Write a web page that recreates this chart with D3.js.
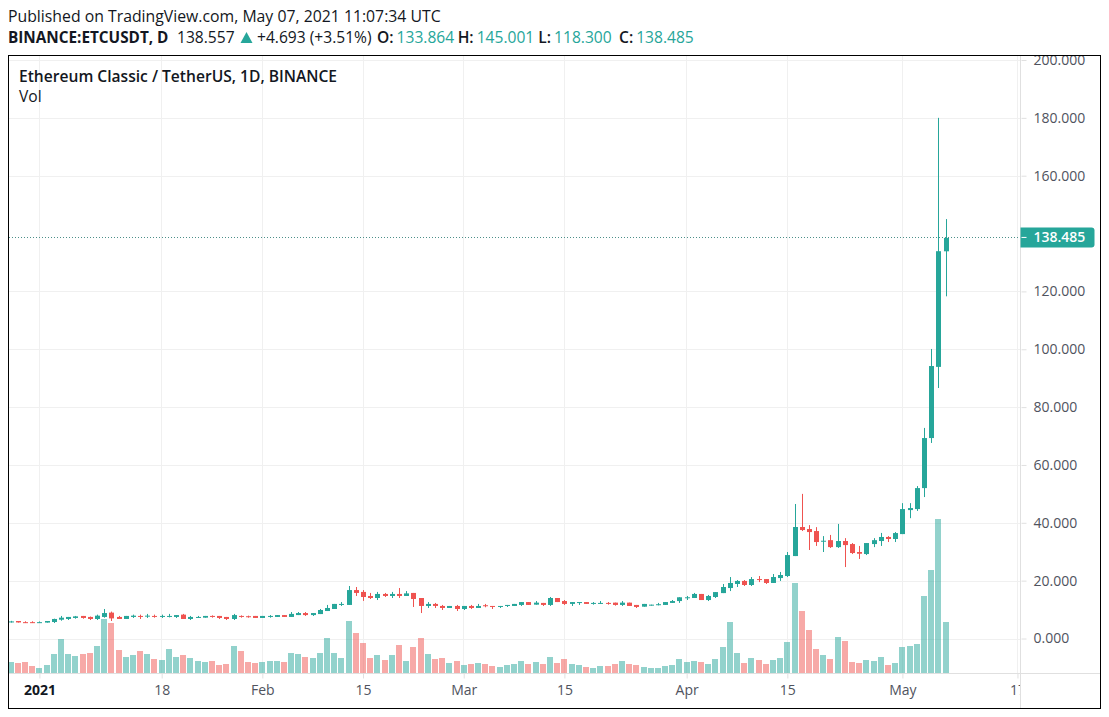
<!DOCTYPE html>
<html>
<head>
<meta charset="utf-8">
<script src="https://cdn.jsdelivr.net/npm/d3@7"></script>
<style>
  html, body { margin: 0; padding: 0; background: #fff; }
  svg { display: block; }
  text { font-family: "Open Sans", sans-serif; }
</style>
</head>
<body>
<div id="chart"></div>
<script>
const firstDay = new Date(Date.UTC(2020, 11, 28));

const opens = [
  5.8, 6.05, 5.65, 5.65, 5.55, 5.5, 5.7, 6.5, 6.75, 7.1,
  7.8, 7.45, 6.75, 7.45, 8.95, 7.45, 6.75, 7.45, 7.8, 7.8,
  7.8, 7.55, 7.7, 7.45, 8.25, 6.75, 7.35, 7.2, 7.8, 7.8,
  7.45, 6.75, 7.8, 7.7, 7.8, 7.1, 7.7, 7.45, 8.1, 7.45,
  8.1, 8.8, 8.1, 8.45, 9.5, 10.2, 11.85, 11.6, 16.75, 16.1,
  14.7, 14.0, 15.4, 14.7, 15.4, 14.7, 15.75, 14.0, 11.25, 11.95,
  11.25, 10.55, 11.25, 10.2, 11.25, 10.55, 11.5, 11.25, 11.15, 11.25,
  11.25, 11.6, 12.6, 11.7, 12.3, 11.6, 14.0, 12.95, 11.95, 12.5,
  12.6, 12.2, 12.2, 12.3, 12.4, 11.6, 12.4, 11.6, 11.0, 11.6,
  11.75, 11.6, 12.3, 12.95, 14.15, 14.0, 15.4, 13.3, 14.35, 15.7,
  17.45, 18.85, 19.9, 18.5, 20.55, 20.55, 19.2, 20.9, 21.6, 28.5,
  38.55, 37.85, 37.15, 33.6, 34, 31.6, 33.7, 32.65, 29.9, 29.2,
  32.65, 33.7, 35.1, 34.4, 36.1, 44.4, 44.75, 52, 69.3, 93.9,
  133.864
];
const highs = [
  6.1, 6.05, 5.95, 5.95, 5.9, 6.05, 6.85, 7.8, 7.45, 7.8,
  7.8, 7.6, 8.25, 10.2, 9.3, 7.8, 7.8, 8.25, 8.25, 8.5,
  8.25, 8.25, 8.5, 8.1, 8.5, 7.8, 7.8, 7.8, 8.0, 7.8,
  7.45, 8.5, 8.0, 7.9, 7.8, 7.8, 8.1, 8.1, 8.1, 9.15,
  9.15, 9.15, 8.8, 10.2, 11.6, 11.95, 12.6, 18.15, 17.8, 16.75,
  15.75, 16.1, 15.75, 16.1, 17.45, 16.4, 15.75, 14.0, 12.6, 12.3,
  11.6, 11.25, 11.6, 11.25, 11.6, 11.95, 11.95, 11.25, 11.25, 11.6,
  11.95, 12.6, 12.6, 12.95, 12.3, 14.35, 14.0, 13.3, 12.6, 12.6,
  12.6, 12.6, 12.95, 12.6, 12.4, 12.95, 12.4, 11.6, 11.95, 11.7,
  12.3, 12.6, 13.3, 14.25, 14.7, 15.75, 15.4, 15.05, 16.05, 18.85,
  21.25, 20.2, 20.2, 21.25, 21.6, 20.55, 22.3, 23, 29.9, 46.5,
  50, 39.2, 38.5, 35.4, 35.8, 39.6, 34.7, 33, 32, 33,
  34.7, 36.5, 35.4, 36.8, 46.8, 46.8, 52.7, 72.8, 100.1, 180,
  145.001
];
const lows = [
  5.5, 5.5, 5.35, 5.35, 5.4, 5.5, 5.35, 6.15, 6.4, 6.85,
  6.85, 6.4, 6.4, 7.2, 6.05, 6.75, 6.75, 7.1, 6.75, 7.1,
  7.2, 7.1, 7.3, 7.1, 6.75, 6.4, 7.1, 7.2, 7.2, 6.75,
  6.4, 6.4, 7.2, 7.2, 7.1, 7.1, 7.2, 7.45, 7.45, 7.45,
  8.1, 7.8, 7.8, 8.45, 9.5, 10.2, 11.25, 11.6, 14.7, 13.0,
  13.65, 13.3, 14.35, 14.0, 14.0, 14.7, 10.9, 8.8, 10.55, 10.55,
  9.85, 10.55, 9.5, 9.85, 10.2, 10.55, 10.8, 10.2, 10.55, 10.9,
  11.25, 11.25, 11.6, 11.7, 11.25, 11.25, 12.6, 11.6, 11.25, 11.6,
  11.95, 11.7, 11.95, 11.7, 11.35, 11.25, 11.25, 10.55, 11.0, 11.35,
  11.45, 11.6, 12.3, 12.3, 13.3, 14.0, 13.3, 12.95, 14.0, 15.7,
  16.4, 17.8, 18.15, 18.15, 19.5, 18.85, 19.2, 19.9, 21.25, 28.5,
  37.15, 30.6, 32, 29.9, 31.3, 31.3, 24.7, 29.2, 27.5, 28.85,
  31.6, 32, 33.35, 33.35, 36.1, 41.6, 44.1, 48.9, 67.6, 86.6,
  118.3
];
const closes = [
  5.9, 5.55, 5.55, 5.55, 5.65, 6.05, 6.75, 7.2, 7.45, 7.65,
  7.1, 6.75, 7.9, 8.8, 6.95, 6.75, 7.8, 7.9, 7.7, 7.9,
  7.7, 7.8, 7.8, 8.1, 6.75, 7.45, 7.45, 7.8, 7.7, 7.1,
  6.75, 8.1, 7.7, 7.6, 7.1, 7.8, 7.8, 8.1, 7.45, 8.5,
  8.8, 8.1, 8.8, 9.85, 10.55, 11.95, 11.95, 16.75, 15.75, 14.35,
  14.0, 15.4, 14.7, 15.4, 14.7, 15.6, 13.65, 11.25, 11.95, 11.25,
  10.55, 11.25, 10.2, 11.25, 10.55, 11.25, 11.4, 11.15, 11.25, 11.6,
  11.95, 12.6, 11.6, 12.4, 11.6, 14.0, 12.6, 11.95, 12.6, 12.6,
  11.95, 12.3, 12.3, 12.2, 11.6, 12.4, 11.25, 10.9, 11.95, 11.7,
  11.85, 12.6, 12.95, 14.25, 14.25, 15.4, 13.3, 14.7, 16.05, 17.8,
  19.2, 19.9, 18.5, 20.55, 20.45, 19.2, 21.25, 21.95, 28.85, 38.55,
  37.5, 36.8, 33.35, 33.8, 31.6, 33.7, 32.3, 29.55, 29.3, 33,
  34, 35.1, 34.4, 36.45, 44.75, 45.1, 52, 69.3, 94.2, 133.9,
  138.485
];
// relative volume (no volume axis on the chart)
const volumes = [
  11, 10, 11, 7, 5, 8, 19, 34, 19, 17,
  19, 20, 27, 54, 50, 23, 16, 18, 22, 19,
  14, 13, 24, 16, 18, 15, 12, 11, 12, 8,
  9, 27, 22, 11, 10, 11, 12, 12, 11, 20,
  19, 16, 15, 20, 35, 20, 15, 52, 40, 30,
  15, 18, 13, 18, 28, 12, 26, 35, 19, 14,
  15, 10, 12, 8, 9, 10, 9, 7, 6, 8,
  9, 12, 9, 11, 9, 16, 10, 14, 9, 8,
  6, 5, 7, 7, 9, 12, 9, 8, 6, 5,
  5, 7, 8, 14, 11, 12, 11, 9, 14, 26,
  51, 20, 10, 15, 13, 9, 13, 15, 31, 90,
  62, 43, 24, 18, 14, 36, 32, 11, 10, 13,
  12, 16, 8, 10, 26, 27, 29, 77, 103, 154,
  51
];

const priceTicks = [0, 20, 40, 60, 80, 100, 120, 160, 180, 200];
const timeTicks = [
  new Date(Date.UTC(2021, 0, 1)), new Date(Date.UTC(2021, 0, 18)),
  new Date(Date.UTC(2021, 1, 1)), new Date(Date.UTC(2021, 1, 15)),
  new Date(Date.UTC(2021, 2, 1)), new Date(Date.UTC(2021, 2, 15)),
  new Date(Date.UTC(2021, 3, 1)), new Date(Date.UTC(2021, 3, 15)),
  new Date(Date.UTC(2021, 4, 1)), new Date(Date.UTC(2021, 4, 17))
];
const timeLabels = ["2021", "18", "Feb", "15", "Mar", "15", "Apr", "15", "May", "17"];
const lastPrice = 138.485;
const quoteLabels = ["O:", "H:", "L:", "C:"];
const quoteValues = ["133.864", "145.001", "118.300", "138.485"];

const w = 1109, h = 717;
const paneLeft = 8.5, paneRight = 1100.5, paneTop = 55.5, paneBottom = 708.5;
const axisX = 1020.5, axisY = 673.5;
const green = "#26a69a", red = "#ef5350", ink = "#131722", axisInk = "#50535e";
const grid = "#f0f0f0", axisLine = "#e0e0e0";

const xScale = d3.scaleUtc()
  .domain([timeTicks[0], timeTicks[8]])
  .range([39.4, 902.4]);
const yScale = d3.scaleLinear()
  .domain([0, 200])
  .range([638.5, 60]);
const volScale = d3.scaleLinear()
  .domain([0, 154])
  .range([axisY, 519]);

const bars = opens.map((o, i) => ({
  date: d3.utcDay.offset(firstDay, i),
  o: o, h: highs[i], l: lows[i], c: closes[i], v: volumes[i]
}));

const svg = d3.select("#chart").append("svg")
  .attr("width", w)
  .attr("height", h);

svg.append("clipPath").attr("id", "pane")
  .append("rect")
  .attr("x", paneLeft).attr("y", paneTop)
  .attr("width", axisX - paneLeft).attr("height", paneBottom - paneTop);

// grid
svg.append("g").selectAll("line")
  .data(priceTicks)
  .enter().append("line")
  .attr("x1", paneLeft).attr("x2", axisX)
  .attr("y1", d => Math.round(yScale(d)) + 0.5)
  .attr("y2", d => Math.round(yScale(d)) + 0.5)
  .attr("stroke", grid);
svg.append("g").selectAll("line")
  .data(timeTicks)
  .enter().append("line")
  .attr("x1", d => Math.floor(xScale(d)) + 0.5)
  .attr("x2", d => Math.floor(xScale(d)) + 0.5)
  .attr("y1", paneTop).attr("y2", axisY)
  .attr("stroke", grid);

const pane = svg.append("g").attr("clip-path", "url(#pane)");

// volume sits behind the candles
pane.selectAll("rect.vol")
  .data(bars)
  .enter().append("rect")
  .attr("class", "vol")
  .attr("x", d => Math.round(xScale(d.date)) - 3)
  .attr("width", 6)
  .attr("y", d => Math.round(volScale(d.v)))
  .attr("height", d => axisY - Math.round(volScale(d.v)))
  .attr("fill", d => d.c >= d.o ? green : red)
  .attr("opacity", 0.5);

pane.selectAll("line.wick")
  .data(bars)
  .enter().append("line")
  .attr("class", "wick")
  .attr("x1", d => Math.round(xScale(d.date)) + 0.5)
  .attr("x2", d => Math.round(xScale(d.date)) + 0.5)
  .attr("y1", d => yScale(d.h))
  .attr("y2", d => yScale(d.l))
  .attr("stroke", d => d.c >= d.o ? green : red);

pane.selectAll("rect.body")
  .data(bars)
  .enter().append("rect")
  .attr("class", "body")
  .attr("x", d => Math.round(xScale(d.date)) - 2)
  .attr("width", 5)
  .attr("y", d => yScale(Math.max(d.o, d.c)))
  .attr("height", d => Math.max(1, Math.abs(yScale(d.o) - yScale(d.c))))
  .attr("fill", d => d.c >= d.o ? green : red);

// last price line, tag sits half a pixel above the scale position
const tagY = yScale(lastPrice) - 0.5;
svg.append("line")
  .attr("x1", 9).attr("x2", axisX)
  .attr("y1", tagY)
  .attr("y2", tagY)
  .attr("stroke", "#4d8f89")
  .attr("stroke-dasharray", "1,2")
  .attr("shape-rendering", "crispEdges");

// time axis
const xAxis = d3.axisBottom(xScale)
  .tickValues(timeTicks)
  .tickFormat((d, i) => timeLabels[i])
  .tickSize(5)
  .tickPadding(7);
svg.append("g")
  .attr("clip-path", "url(#pane)")
  .append("g")
  .attr("transform", "translate(0," + axisY + ")")
  .call(xAxis)
  .call(g => g.select(".domain").remove())
  .call(g => g.selectAll("line").attr("stroke", axisLine))
  .call(g => g.selectAll("text")
    .attr("font-family", '"Open Sans", sans-serif')
    .attr("font-size", 14)
    .attr("fill", (d, i) => i === 0 ? ink : axisInk)
    .attr("font-weight", (d, i) => i === 0 ? 700 : 400));
svg.append("line")
  .attr("x1", paneLeft).attr("x2", paneRight)
  .attr("y1", axisY).attr("y2", axisY)
  .attr("stroke", axisLine);

// price axis
const yAxis = d3.axisRight(yScale)
  .tickValues(priceTicks)
  .tickFormat(d3.format(".3f"))
  .tickSize(5)
  .tickPadding(7);
svg.append("g")
  .attr("transform", "translate(" + (axisX + 1) + ",0)")
  .call(yAxis)
  .call(g => g.select(".domain").remove())
  .call(g => g.selectAll("line").attr("stroke", axisLine))
  .call(g => g.selectAll("text")
    .attr("font-family", '"Open Sans", sans-serif')
    .attr("font-size", 14)
    .attr("fill", axisInk));
svg.append("line")
  .attr("x1", axisX).attr("x2", axisX)
  .attr("y1", paneTop).attr("y2", paneBottom)
  .attr("stroke", axisLine);

// last price tag
svg.append("path")
  .attr("d", `M${axisX},${tagY - 10} H${axisX + 71} q3,0 3,3 V${tagY + 7} q0,3 -3,3 H${axisX} Z`)
  .attr("fill", green);
svg.append("line")
  .attr("x1", axisX + 1).attr("x2", axisX + 6)
  .attr("y1", tagY).attr("y2", tagY)
  .attr("stroke", "#fff");
svg.append("text")
  .attr("x", axisX + 13)
  .attr("y", tagY + 5)
  .attr("font-size", 14)
  .attr("font-weight", 600)
  .attr("fill", "#fff")
  .text(d3.format(".3f")(lastPrice));

// frame
svg.append("rect")
  .attr("x", paneLeft).attr("y", paneTop)
  .attr("width", paneRight - paneLeft).attr("height", paneBottom - paneTop)
  .attr("fill", "none")
  .attr("stroke", "#000");

// pane legend
svg.append("text")
  .attr("x", 19).attr("y", 82)
  .attr("font-size", 15.6).attr("font-weight", 600).attr("fill", ink)
  .text("Ethereum Classic / TetherUS, 1D, BINANCE");
svg.append("text")
  .attr("x", 19).attr("y", 102)
  .attr("font-size", 15.6).attr("fill", ink)
  .text("Vol");

// header
svg.append("text")
  .attr("x", 8).attr("y", 22)
  .attr("font-size", 15.8).attr("fill", ink)
  .text("Published on TradingView.com, May 07, 2021 11:07:34 UTC");

const head = svg.append("g").attr("font-size", 15.6);
head.append("text").attr("x", 8).attr("y", 43)
  .attr("font-size", 15.3).attr("font-weight", 700).attr("fill", ink)
  .text("BINANCE:ETCUSDT, D");
head.append("text").attr("x", 177).attr("y", 43)
  .attr("fill", ink)
  .text("138.557");
head.append("path")
  .attr("d", "M240.5,43 L246.5,32 L252.5,43 Z")
  .attr("fill", green);
head.append("text").attr("x", 257).attr("y", 43)
  .attr("fill", ink)
  .text("+4.693 (+3.51%)");
const quoteX = d3.scaleLinear().domain([0, 3]).range([377, 619]);
quoteLabels.forEach((label, i) => {
  const t = head.append("text").attr("x", quoteX(i)).attr("y", 43).attr("fill", ink);
  t.append("tspan").attr("font-weight", 600).text(label);
  t.append("tspan").attr("dx", 3).attr("fill", green).text(quoteValues[i]);
});
</script>
</body>
</html>
